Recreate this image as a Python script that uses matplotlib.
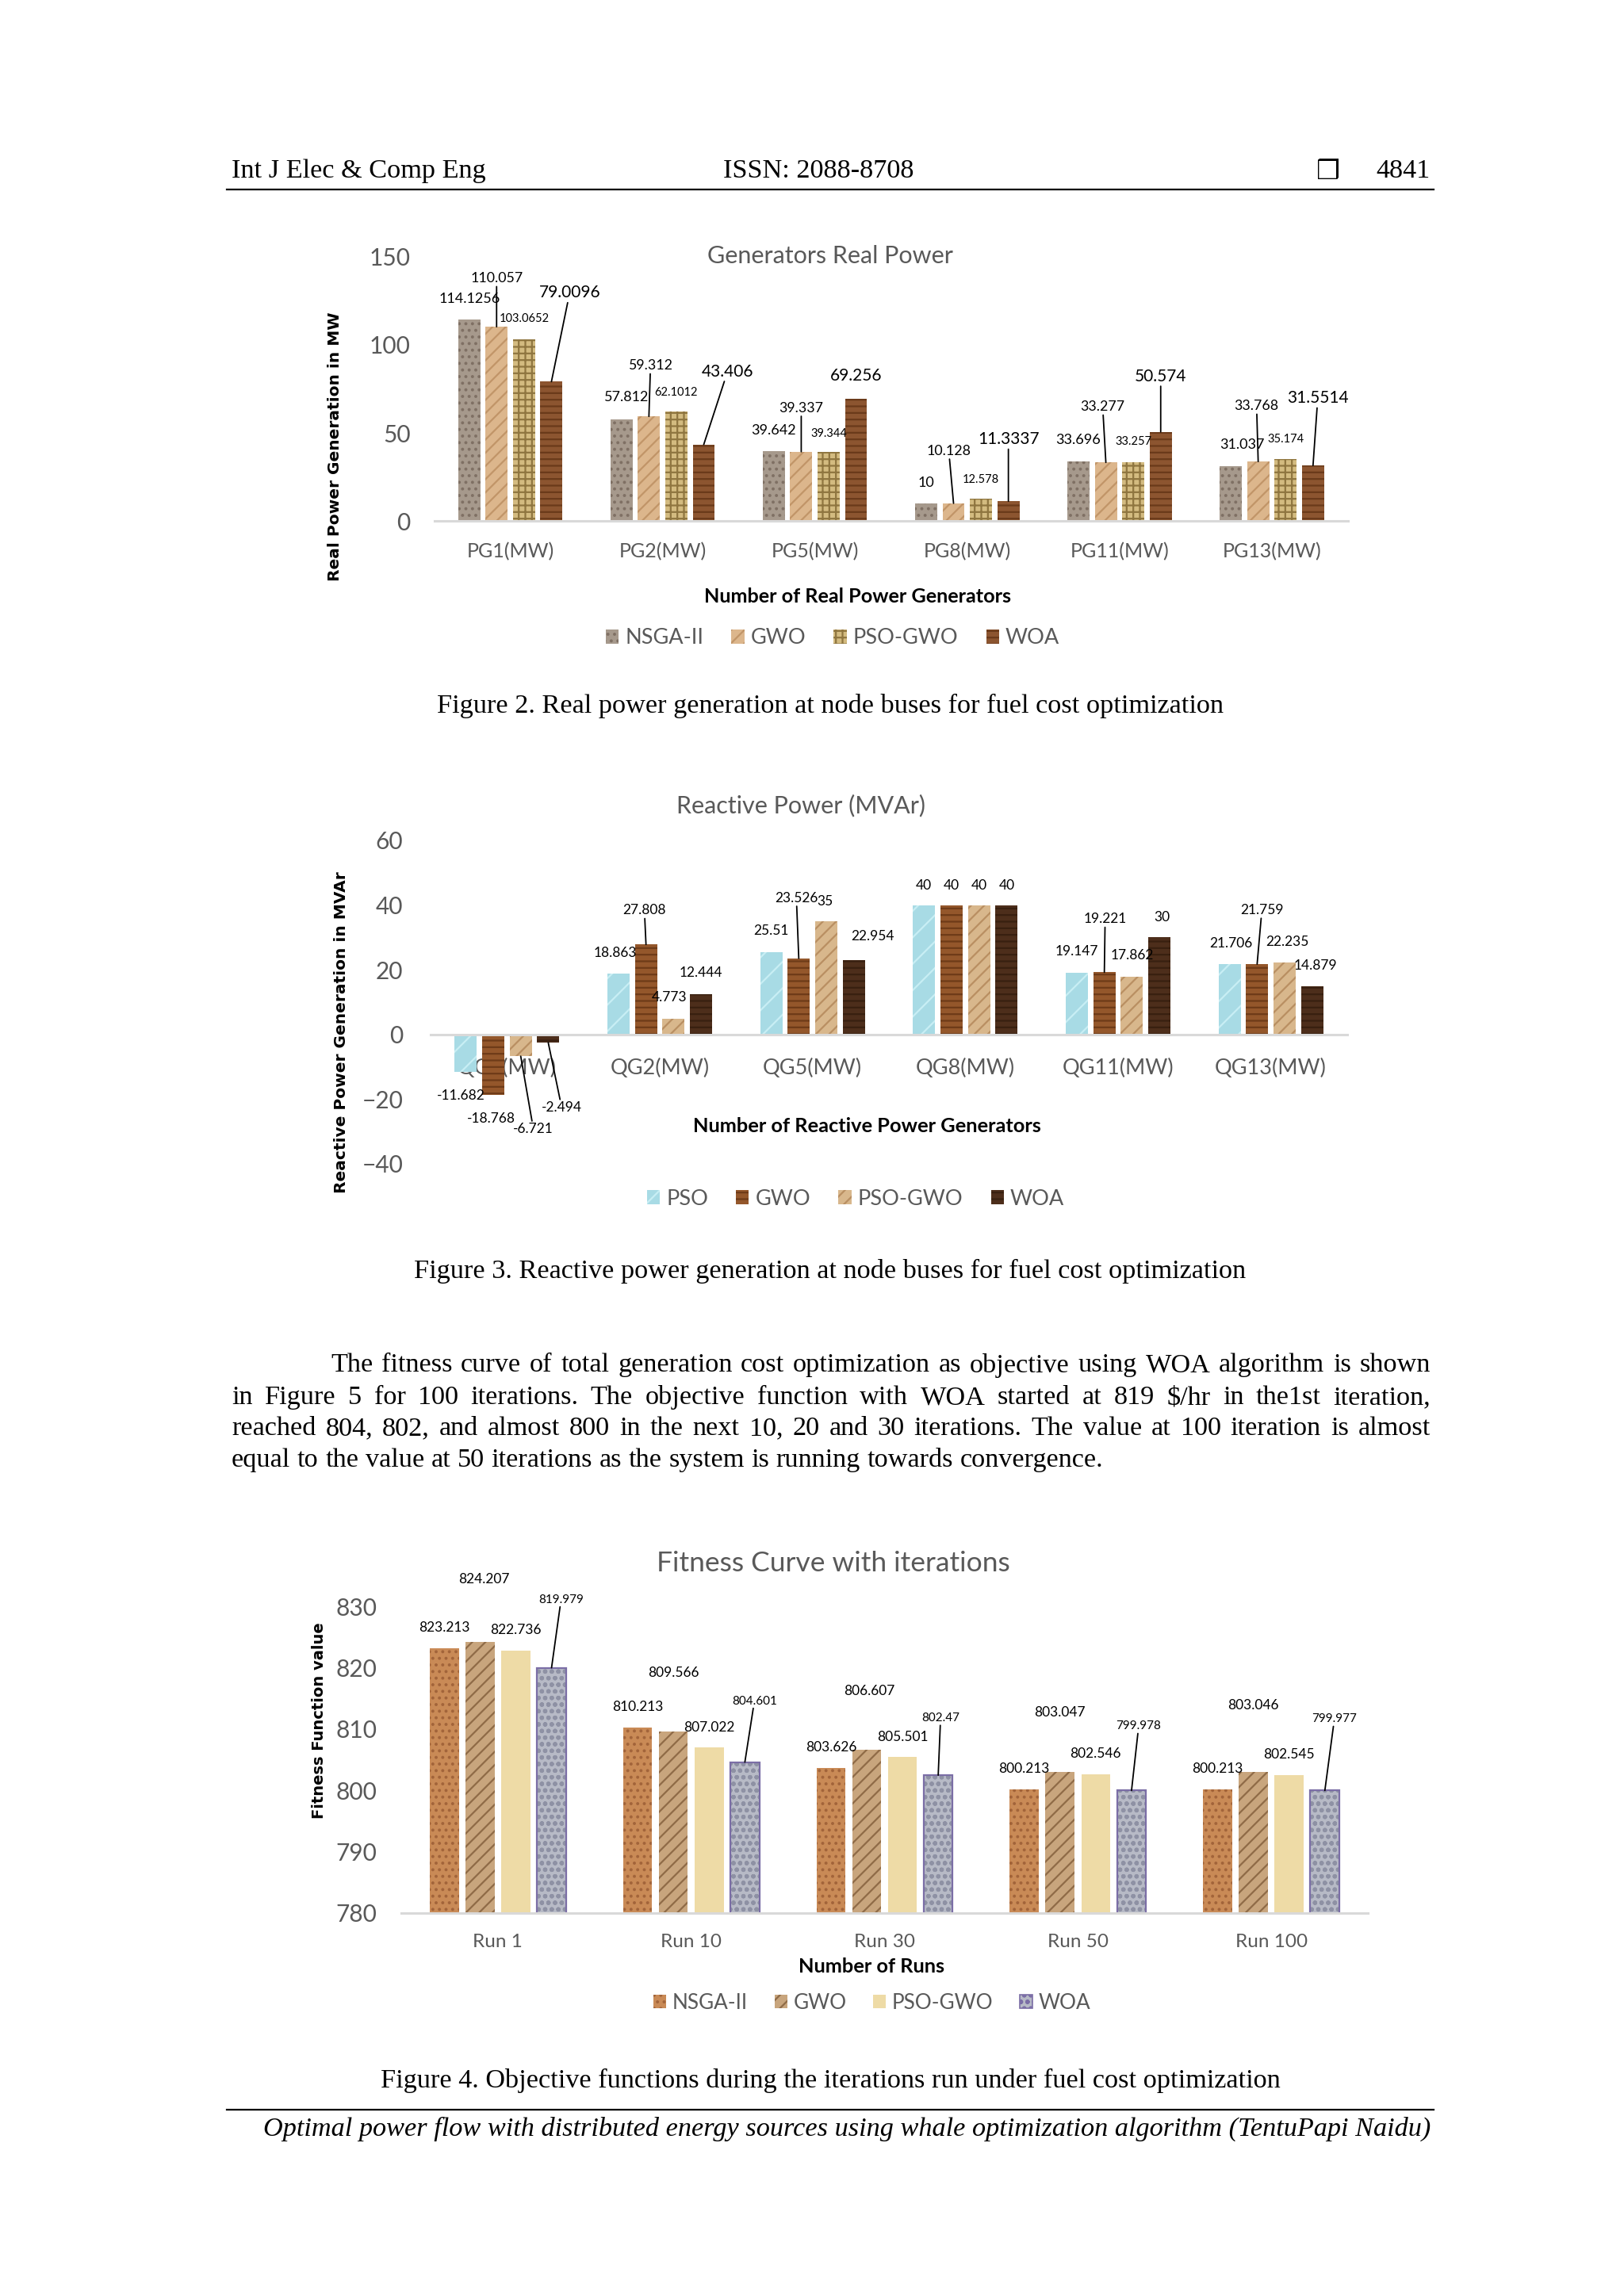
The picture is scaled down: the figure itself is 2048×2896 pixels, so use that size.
import numpy as np
import matplotlib.pyplot as plt
from matplotlib.patches import Patch
from matplotlib.lines import Line2D

plt.rcParams["font.family"] = ["Lato", "DejaVu Sans"]
plt.rcParams["hatch.linewidth"] = 1.6

W, H = 2048, 2896
def fx(x): return x / W
def fy(y): return 1 - y / H

# ---------------- data ----------------
real_methods = ["NSGA-II", "GWO", "PSO-GWO", "WOA"]
real_cats = ["PG1(MW)", "PG2(MW)", "PG5(MW)", "PG8(MW)", "PG11(MW)", "PG13(MW)"]
real_nsga = [114.1256, 57.812, 39.642, 10, 33.696, 31.037]
real_gwo = [110.057, 59.312, 39.337, 10.128, 33.277, 33.768]
real_psogwo = [103.0652, 62.1012, 39.344, 12.578, 33.257, 35.174]
real_woa = [79.0096, 43.406, 69.256, 11.3337, 50.574, 31.5514]

react_methods = ["PSO", "GWO", "PSO-GWO", "WOA"]
react_cats = ["QG1(MW)", "QG2(MW)", "QG5(MW)", "QG8(MW)", "QG11(MW)", "QG13(MW)"]
react_pso = [-11.682, 18.863, 25.51, 40, 19.147, 21.706]
react_gwo = [-18.768, 27.808, 23.526, 40, 19.221, 21.759]
react_psogwo = [-6.721, 4.773, 35, 40, 17.862, 22.235]
react_woa = [-2.494, 12.444, 22.954, 40, 30, 14.879]

fit_methods = ["NSGA-II", "GWO", "PSO-GWO", "WOA"]
fit_cats = ["Run 1", "Run 10", "Run 30", "Run 50", "Run 100"]
fit_nsga = [823.213, 810.213, 803.626, 800.213, 800.213]
fit_gwo = [824.207, 809.566, 806.607, 803.047, 803.046]
fit_psogwo = [822.736, 807.022, 805.501, 802.546, 802.545]
fit_woa = [819.979, 804.601, 802.47, 799.978, 799.977]

# label offsets in pixels (dx, dy, leader line)
real_offs = [
    [(0, 26, 0), (6, 28, 0), (0, 26, 0), (0, 26, 0), (0, 27, 0), (14, 27, 0)],
    [(0, 61, 1), (2, 64, 1), (0, 55, 1), (-6, 66, 1), (-4, 70, 1), (-2, 70, 1)],
    [(0, 26, 0), (0, 24, 0), (0, 23, 0), (0, 24, 0), (0, 26, 0), (0, 25, 0)],
    [(23, 112, 1), (30, 92, 1), (0, 29, 0), (0, 78, 1), (0, 70, 1), (6, 85, 1)],
]
react_offs = [
    [(-6, -30, 0), (-4, 26, 0), (0, 27, 0), (0, 25, 0), (0, 27, 0), (2, 26, 0)],
    [(-3, -30, 0), (-2, 43, 1), (-3, 76, 1), (0, 25, 0), (1, 67, 1), (6, 68, 1)],
    [(16, -92, 1), (-5, 27, 0), (-2, 25, 0), (0, 25, 0), (0, 27, 0), (3, 26, 0)],
    [(17, -82, 1), (0, 27, 0), (24, 30, 0), (0, 25, 0), (3, 25, 0), (4, 26, 0)],
]
fit_offs = [
    [(0, 26, 0)] * 5,
    [(5, 79, 0), (0, 74, 0), (3, 74, 0), (0, 75, 0), (0, 84, 0)],
    [(0, 26, 0), (0, 25, 0), (0, 25, 0), (0, 26, 0), (0, 26, 0)],
    [(12, 86, 1), (12, 77, 1), (3, 72, 1), (9, 81, 1), (12, 90, 1)],
]

GRAY = "#595959"
serif = ["Liberation Serif", "DejaVu Serif"]
body = 24.7

fig = plt.figure(figsize=(W / 100, H / 100), dpi=100)
renderer = fig.canvas.get_renderer()


def add_ax(left, right, top, bottom):
    return fig.add_axes([fx(left), fy(bottom), (right - left) / W, (bottom - top) / H])


def draw_bars(ax, series, width, step, faces, hatches, hcols):
    x = np.arange(len(series[0]))
    conts, xs_all = [], []
    for k, vals in enumerate(series):
        xs = x + (k - 1.5) * step
        c = ax.bar(xs, vals, width, color=faces[k], hatch=hatches[k],
                   edgecolor=hcols[k], linewidth=0, zorder=2)
        conts.append(c)
        xs_all.append(xs)
    return conts, xs_all


def label_bars(ax, xs, vals, offs, size):
    for xi, v, (dx, dy, lead) in zip(xs, vals, offs):
        ap = None
        if lead:
            ap = dict(arrowstyle="-", color="black", lw=1.3, shrinkA=1, shrinkB=0)
        ax.annotate(str(v), xy=(xi, v), xytext=(dx, dy), textcoords="offset pixels",
                    ha="center", va="center", fontsize=size, color="black",
                    bbox=dict(boxstyle="square,pad=0.05", fc="none", ec="none"),
                    arrowprops=ap, annotation_clip=False, zorder=5)


def style_ax(ax, cats, ylim, yticks, ysize, xsize, ypad, xpad):
    ax.set_xlim(-0.5, len(cats) - 0.5)
    ax.set_ylim(*ylim)
    ax.set_yticks(yticks)
    ax.set_xticks(range(len(cats)), cats)
    for s in ["top", "right", "left"]:
        ax.spines[s].set_visible(False)
    ax.spines["bottom"].set_color("#d9d9d9")
    ax.spines["bottom"].set_linewidth(2.2)
    ax.spines["bottom"].set_zorder(3)
    ax.tick_params(axis="y", length=0, labelsize=ysize, labelcolor=GRAY, pad=ypad)
    ax.tick_params(axis="x", length=0, labelsize=xsize, labelcolor=GRAY, pad=xpad)
    ax.patch.set_alpha(0)


def legend(handles, labels, cx, cy, size):
    fig.legend(handles, labels, loc="center", bbox_to_anchor=(fx(cx), fy(cy)), ncol=4,
               frameon=False, fontsize=size, labelcolor=GRAY, handlelength=0.6,
               handleheight=0.6, handletextpad=0.3, columnspacing=1.3)


# ---------------- page header ----------------
fig.text(fx(292), fy(216), "Int J Elec & Comp Eng", family=serif, size=body, va="center", ha="left")
fig.text(fx(1032), fy(216), "ISSN: 2088-8708", family=serif, size=body, va="center", ha="center")
fig.text(fx(1675), fy(217), "\u2752", family=["DejaVu Sans"], size=24, va="center", ha="center")
fig.text(fx(1804), fy(216), "4841", family=serif, size=body, va="center", ha="right")
fig.add_artist(Line2D([fx(286), fx(1808)], [fy(239), fy(239)], color="black", lw=1.6))

# ---------------- chart 1: real power ----------------
ax1 = add_ax(547.5, 1700, 323.2, 657.4)
c1, xs1 = draw_bars(ax1, [real_nsga, real_gwo, real_psogwo, real_woa], 0.145, 0.18,
                    ["#a6998c", "#dcb68c", "#d3bb80", "#8c5530"],
                    ["..", "//", "++", "--"],
                    ["#7f7064", "#c19568", "#8f7640", "#6a3a1a"])
style_ax(ax1, real_cats, (0, 150), [0, 50, 100, 150], 21.5, 18, 21.5, 19)
for k, (vals, size) in enumerate(zip([real_nsga, real_gwo, real_psogwo, real_woa], [13, 12.8, 10.5, 15])):
    label_bars(ax1, xs1[k], vals, real_offs[k], size)
fig.text(fx(1047), fy(323), "Generators Real Power", size=22, color=GRAY, ha="center", va="center")
fig.text(fx(423), fy(563), "Real Power Generation in MW", family=["DejaVu Sans"], weight="bold",
         size=14.5, rotation=90, ha="center", va="center")
fig.text(fx(1082), fy(752), "Number of Real Power Generators", weight="bold", size=18.2,
         ha="center", va="center")
legend(c1, real_methods, 1050, 805, 19.5)
fig.text(fx(1047), fy(890), "Figure 2. Real power generation at node buses for fuel cost optimization",
         family=serif, size=body, ha="center", va="center")

# ---------------- chart 2: reactive power ----------------
ax2 = add_ax(543, 1699, 1060, 1468)
c2, xs2 = draw_bars(ax2, [react_pso, react_gwo, react_psogwo, react_woa], 0.145, 0.18,
                    ["#a8dbe5", "#94572b", "#d8b78c", "#4d2e1b"],
                    ["/", "--", "//", "--"],
                    ["#c8eef4", "#6e3b18", "#b98f62", "#382010"])
style_ax(ax2, react_cats, (-40, 60), [-40, -20, 0, 20, 40, 60], 21.5, 19.5, 25, 22)
ax2.spines["bottom"].set_position(("data", 0))
for k, vals in enumerate([react_pso, react_gwo, react_psogwo, react_woa]):
    label_bars(ax2, xs2[k], vals, react_offs[k], 12.5)
fig.text(fx(1010), fy(1016), "Reactive Power (MVAr)", size=22, color=GRAY, ha="center", va="center")
fig.text(fx(430), fy(1302), "Reactive Power Generation in MVAr", family=["DejaVu Sans"], weight="bold",
         size=14.5, rotation=90, ha="center", va="center")
fig.text(fx(1093), fy(1420), "Number of Reactive Power Generators", weight="bold", size=18.3,
         ha="center", va="center")
legend(c2, react_methods, 1079, 1512, 19.5)
fig.text(fx(1047), fy(1603), "Figure 3. Reactive power generation at node buses for fuel cost optimization",
         family=serif, size=body, ha="center", va="center")

# ---------------- paragraph ----------------
para_lines = [
    "The fitness curve of total generation cost optimization as objective using WOA algorithm is shown",
    "in Figure 5 for 100 iterations. The objective function with WOA started at 819 $/hr in the1st iteration,",
    "reached 804, 802, and almost 800 in the next 10, 20 and 30 iterations. The value at 100 iteration is almost",
    "equal to the value at 50 iterations as the system is running towards convergence.",
]
para_y = [1722, 1763, 1802, 1842]
space = 0.25 * body * 100 / 72
for i, (line, y) in enumerate(zip(para_lines, para_y)):
    x0 = 417 if i == 0 else 292
    words = line.split()
    arts = [fig.text(0, fy(y), w, family=serif, size=body, va="center", ha="left", parse_math=False)
            for w in words]
    widths = [a.get_window_extent(renderer).width for a in arts]
    if i == len(para_lines) - 1:
        gap = space
    else:
        gap = (1804 - x0 - sum(widths)) / (len(words) - 1)
    x = x0
    for a, w in zip(arts, widths):
        a.set_x(fx(x))
        x += w + gap

# ---------------- chart 3: fitness ----------------
ax3 = add_ax(506, 1725, 2026, 2413)
fit_series = [fit_nsga, fit_gwo, fit_psogwo, fit_woa]
c3, xs3 = draw_bars(ax3, fit_series, 0.15, 0.185,
                    ["#c98a56", "#c8a57d", "#eedba6", "#b7bac6"],
                    ["..", "//", "", "oo"],
                    ["#a2643a", "#8f6b47", "#eedba6", "#8e91a4"])
ax3.bar(xs3[3], fit_woa, 0.15, fill=False, edgecolor="#7b6ea6", linewidth=1.6, zorder=3)
style_ax(ax3, fit_cats, (780, 830), [780, 790, 800, 810, 820, 830], 21.5, 17.5, 22, 19)
for k, (vals, size) in enumerate(zip(fit_series, [12.5, 12.5, 12.5, 11])):
    label_bars(ax3, xs3[k], vals, fit_offs[k], size)
fig.text(fx(1051), fy(1972), "Fitness Curve with iterations", size=25.5, color=GRAY, ha="center", va="center")
fig.text(fx(403), fy(2170), "Fitness Function value", family=["DejaVu Sans"], weight="bold",
         size=14, rotation=90, ha="center", va="center")
fig.text(fx(1099), fy(2480), "Number of Runs", weight="bold", size=18.3, ha="center", va="center")
h3 = [Patch(facecolor="#c98a56", hatch="..", edgecolor="#a2643a", linewidth=0),
      Patch(facecolor="#c8a57d", hatch="//", edgecolor="#8f6b47", linewidth=0),
      Patch(facecolor="#eedba6", linewidth=0),
      Patch(facecolor="#b7bac6", hatch="oo", edgecolor="#7b6ea6", linewidth=1.2)]
legend(h3, fit_methods, 1100, 2526, 18.8)
fig.text(fx(1047), fy(2624), "Figure 4. Objective functions during the iterations run under fuel cost optimization",
         family=serif, size=body, ha="center", va="center")

# ---------------- footer ----------------
fig.add_artist(Line2D([fx(286), fx(1808)], [fy(2661), fy(2661)], color="black", lw=1.6))
fig.text(fx(1804), fy(2685),
         "Optimal power flow with distributed energy sources using whale optimization algorithm (TentuPapi Naidu)",
         family=serif, style="italic", size=body, ha="right", va="center")

fig.savefig("out.png", dpi=100)
